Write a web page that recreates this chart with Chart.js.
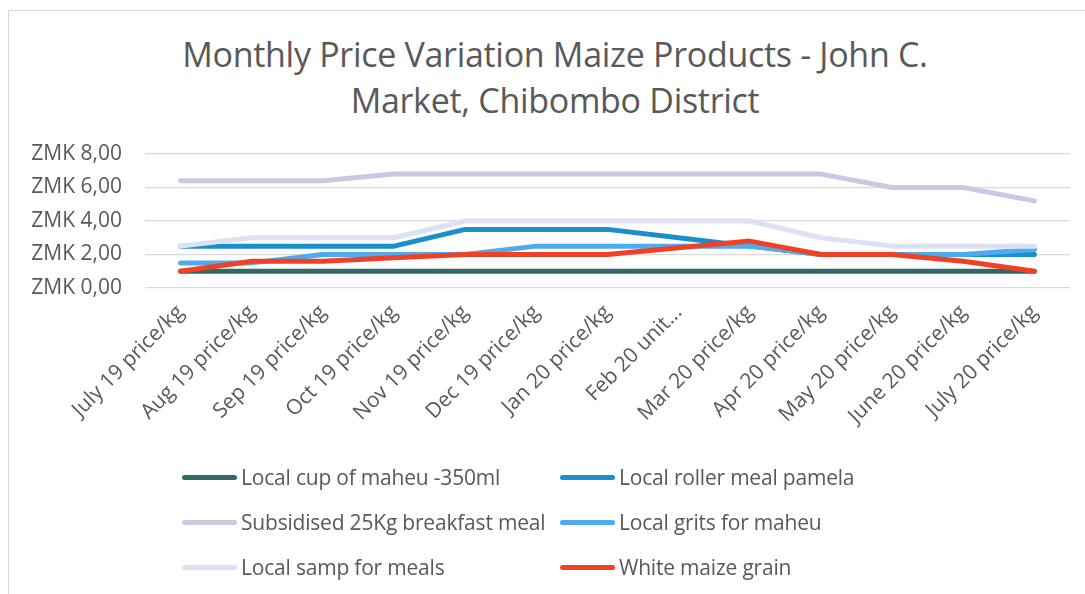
<!DOCTYPE html>
<html>
<head>
<meta charset="utf-8">
<script src="https://cdn.jsdelivr.net/npm/chart.js@4/dist/chart.umd.min.js"></script>
<style>
  html, body { margin: 0; padding: 0; background: #fff; overflow: hidden; }
  #wrap { position: relative; width: 1085px; height: 594px; overflow: hidden; }
  #frame { position: absolute; left: 8px; top: 10px; width: 2000px; height: 2000px; border: 1px solid #d9d9d9; box-sizing: border-box; }
  #title { position: absolute; left: 8px; width: 1094px; top: 31px; text-align: center; font-family: "Open Sans", sans-serif; font-size: 34px; line-height: 46px; color: #595959; letter-spacing: -0.3px; }
  canvas { position: absolute; left: 0; top: 0; }
  .lg { position: absolute; font-family: "Open Sans", sans-serif; font-size: 21px; color: #595959; white-space: nowrap; line-height: 26px; letter-spacing: -0.2px; }
  .lg span.sw { position: absolute; height: 5px; border-radius: 3px; }
</style>
</head>
<body>
<div id="wrap">
  <div id="frame"></div>
  <div id="title">Monthly Price Variation Maize Products - John C.<br>Market, Chibombo District</div>
  <canvas id="c" width="1085" height="594"></canvas>
  <div id="legend"></div>
</div>
<script>
const categories = [
  "July 19 price/kg", "Aug 19 price/kg", "Sep 19 price/kg", "Oct 19 price/kg",
  "Nov 19 price/kg", "Dec 19 price/kg", "Jan 20 price/kg", "Feb 20 unit...",
  "Mar 20 price/kg", "Apr 20 price/kg", "May 20 price/kg", "June 20 price/kg",
  "July 20 price/kg"
];
const seriesNames = [
  "Local cup of maheu -350ml", "Local roller meal pamela",
  "Subsidised 25Kg breakfast meal", "Local grits for maheu",
  "Local samp for meals", "White maize grain"
];
const maheuCup      = [1, 1, 1, 1, 1, 1, 1, 1, 1, 1, 1, 1, 1];
const rollerPamela  = [2.5, 2.5, 2.5, 2.5, 3.5, 3.5, 3.5, 3.0, 2.5, 2.0, 2.0, 2.0, 2.0];
const breakfastMeal = [6.4, 6.4, 6.4, 6.8, 6.8, 6.8, 6.8, 6.8, 6.8, 6.8, 6.0, 6.0, 5.2];
const gritsMaheu    = [1.5, 1.5, 2.0, 2.0, 2.0, 2.5, 2.5, 2.5, 2.5, 2.0, 2.0, 2.0, 2.3];
const sampMeals     = [2.5, 3.0, 3.0, 3.0, 4.0, 4.0, 4.0, 4.0, 4.0, 3.0, 2.5, 2.5, 2.5];
const whiteMaize    = [1.0, 1.6, 1.6, 1.8, 2.0, 2.0, 2.0, 2.4, 2.8, 2.0, 2.0, 1.6, 1.0];
const yTickValues = [0, 2, 4, 6, 8];
const yTickLabels = ["ZMK 0,00", "ZMK 2,00", "ZMK 4,00", "ZMK 6,00", "ZMK 8,00"];

const seriesValues = [maheuCup, rollerPamela, breakfastMeal, gritsMaheu, sampMeals, whiteMaize];
const colors = ["#336868", "#1b8fcc", "#c7cae3", "#4eabef", "#dde1f4", "#f04126"];

const datasets = seriesValues.map((vals, i) => ({
  label: seriesNames[i],
  data: vals,
  borderColor: colors[i],
  backgroundColor: colors[i],
  borderWidth: 5,
  pointRadius: 0,
  pointHoverRadius: 0,
  tension: 0,
  fill: false,
  borderCapStyle: "round",
  borderJoinStyle: "round",
  order: seriesValues.length - i
}));

const chart = new Chart(document.getElementById("c"), {
  type: "line",
  data: { labels: categories, datasets },
  options: {
    responsive: false,
    animation: false,
    layout: { padding: { left: 0, right: 15, top: 154, bottom: 156 } },
    plugins: { legend: { display: false }, title: { display: false }, tooltip: { enabled: false } },
    scales: {
      x: {
        offset: true,
        grid: { display: false },
        border: { display: false },
        ticks: {
          minRotation: 45, maxRotation: 45, autoSkip: false,
          color: "#595959", padding: 4,
          font: { family: "Open Sans", size: 21 }
        },
        afterFit: (s) => { s.height = 150; }
      },
      y: {
        min: 0, max: 8,
        grid: { color: "#d9d9d9", lineWidth: 1.3, drawTicks: false },
        border: { display: false },
        afterBuildTicks: (s) => { s.ticks = yTickValues.map(v => ({ value: v })); },
        ticks: {
          color: "#595959", padding: 23,
          font: { family: "Open Sans", size: 21 },
          callback: (v) => yTickLabels[yTickValues.indexOf(v)]
        },
        afterFit: (s) => { s.width = 145; }
      }
    }
  }
});

// HTML legend in two columns, built from the chart's datasets
const legend = document.getElementById("legend");
const colX = [182, 560];
const rowY = [478, 523, 568];
chart.data.datasets.forEach((ds, i) => {
  const col = i % 2, row = Math.floor(i / 2);
  const item = document.createElement("div");
  item.className = "lg";
  item.style.left = (colX[col] + 59) + "px";
  item.style.top = (rowY[row] - 14) + "px";
  item.textContent = ds.label;
  const sw = document.createElement("span");
  sw.className = "sw";
  sw.style.left = "-59px";
  sw.style.width = "55px";
  sw.style.top = "11px";
  sw.style.background = ds.borderColor;
  item.appendChild(sw);
  legend.appendChild(item);
});
</script>
</body>
</html>
